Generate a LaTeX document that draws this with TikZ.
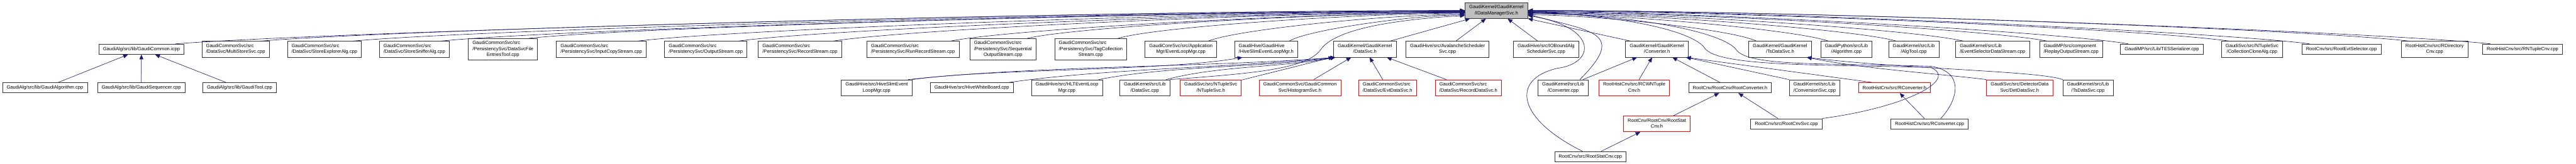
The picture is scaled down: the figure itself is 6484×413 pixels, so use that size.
\documentclass[tikz,border=0pt]{standalone}
\usepackage{fontspec}
\setmainfont{Liberation Sans}
\usetikzlibrary{arrows.meta}
\definecolor{edgeblue}{HTML}{191970}
\definecolor{rootgray}{HTML}{BFBFBF}
% label: all lines left, last line centred (as doxygen sets them)
\newcommand{\fl}[2]{\begin{tabular}{@{}l@{}}#1\\\multicolumn{1}{@{}c@{}}{#2}\end{tabular}}

\begin{document}
\begin{tikzpicture}[
    x=1pt, y=-1pt,
    font=\fontsize{12}{15}\selectfont,
    file/.style={draw=black!80, line width=1.1pt, fill=white, inner xsep=10.5pt, inner ysep=1pt, minimum height=26pt},
    two/.style={minimum height=40pt},
    three/.style={minimum height=54pt},
    cut/.style={draw=red},
    dep/.style={draw=edgeblue, line width=1pt, -{Triangle[length=12pt,width=10pt]}}
  ]
  \useasboundingbox (0,0) rectangle (6484,413);

  \node[file,two,fill=rootgray] (root) at (3766.5,26.5) {\fl{GaudiKernel/GaudiKernel}{/IDataManagerSvc.h}};

  % second row
  \node[file] (icpp) at (356,124) {GaudiAlg/src/lib/GaudiCommon.icpp};
  \node[file,two] (multi) at (593,124) {\fl{GaudiCommonSvc/src}{/DataSvc/MultiStoreSvc.cpp}};
  \node[file,two] (explorer) at (816.5,124) {\fl{GaudiCommonSvc/src}{/DataSvc/StoreExplorerAlg.cpp}};
  \node[file,two] (sniffer) at (1043,124) {\fl{GaudiCommonSvc/src}{/DataSvc/StoreSnifferAlg.cpp}};
  \node[file,three] (entries) at (1266,124) {\fl{GaudiCommonSvc/src\\/PersistencySvc/DataSvcFile}{EntriesTool.cpp}};
  \node[file,two] (inputcopy) at (1513.5,124) {\fl{GaudiCommonSvc/src}{/PersistencySvc/InputCopyStream.cpp}};
  \node[file,two] (output) at (1776.5,124) {\fl{GaudiCommonSvc/src}{/PersistencySvc/OutputStream.cpp}};
  \node[file,two] (record) at (2013.5,124) {\fl{GaudiCommonSvc/src}{/PersistencySvc/RecordStream.cpp}};
  \node[file,two] (runrecord) at (2298,124) {\fl{GaudiCommonSvc/src}{/PersistencySvc/RunRecordStream.cpp}};
  \node[file,three] (seqout) at (2524.5,124) {\fl{GaudiCommonSvc/src\\/PersistencySvc/Sequential}{OutputStream.cpp}};
  \node[file,three] (tagcoll) at (2745.5,124) {\fl{GaudiCommonSvc/src\\/PersistencySvc/TagCollection}{Stream.cpp}};
  \node[file,two] (evtloop) at (2972.5,124) {\fl{GaudiCoreSvc/src/Application}{Mgr/EventLoopMgr.cpp}};
  \node[file,two] (hiveslimh) at (3187,124) {\fl{GaudiHive/GaudiHive}{/HiveSlimEventLoopMgr.h}};
  \node[file,two] (datasvch) at (3435.5,124) {\fl{GaudiKernel/GaudiKernel}{/DataSvc.h}};
  \node[file,two] (avalanche) at (3643.5,124) {\fl{GaudiHive/src/AvalancheScheduler}{Svc.cpp}};
  \node[file,two] (iobound) at (3891.5,124) {\fl{GaudiHive/src/IOBoundAlg}{SchedulerSvc.cpp}};
  \node[file,two] (converterh) at (4170.5,124) {\fl{GaudiKernel/GaudiKernel}{/Converter.h}};
  \node[file,two] (tsdatasvch) at (4480.5,124) {\fl{GaudiKernel/GaudiKernel}{/TsDataSvc.h}};
  \node[file,two] (pyalg) at (4647.5,124) {\fl{GaudiPython/src/Lib}{/Algorithm.cpp}};
  \node[file,two] (algtool) at (4817,124) {\fl{GaudiKernel/src/Lib}{/AlgTool.cpp}};
  \node[file,two] (evtselstream) at (5015.5,124) {\fl{GaudiKernel/src/Lib}{/EventSelectorDataStream.cpp}};
  \node[file,two] (replay) at (5213,124) {\fl{GaudiMP/src/component}{/ReplayOutputStream.cpp}};
  \node[file] (tesser) at (5441.5,124) {GaudiMP/src/Lib/TESSerializer.cpp};
  \node[file,two] (collclone) at (5668.5,124) {\fl{GaudiSvc/src/NTupleSvc}{/CollectionCloneAlg.cpp}};
  \node[file] (rootevtsel) at (5893.5,124) {RootCnv/src/RootEvtSelector.cpp};
  \node[file,two] (rdircnv) at (6128,124) {\fl{RootHistCnv/src/RDirectory}{Cnv.cpp}};
  \node[file] (rntuplecnv) at (6349.5,124) {RootHistCnv/src/RNTupleCnv.cpp};

  % third row
  \node[file] (galgorithm) at (113,221) {GaudiAlg/src/lib/GaudiAlgorithm.cpp};
  \node[file] (gsequencer) at (355.5,221) {GaudiAlg/src/lib/GaudiSequencer.cpp};
  \node[file] (gtool) at (603,221) {GaudiAlg/src/lib/GaudiTool.cpp};
  \node[file,two] (hiveslimcpp) at (2206.5,221) {\fl{GaudiHive/src/HiveSlimEvent}{LoopMgr.cpp}};
  \node[file] (whiteboard) at (2446,221) {GaudiHive/src/HiveWhiteBoard.cpp};
  \node[file,two] (hltloop) at (2685.5,221) {\fl{GaudiHive/src/HLTEventLoop}{Mgr.cpp}};
  \node[file,two] (datasvccpp) at (2881.5,221) {\fl{GaudiKernel/src/Lib}{/DataSvc.cpp}};
  \node[file,two,cut] (ntuplesvch) at (3047.5,221) {\fl{GaudiSvc/src/NTupleSvc}{/NTupleSvc.h}};
  \node[file,two,cut] (histsvch) at (3272,221) {\fl{GaudiCommonSvc/GaudiCommon}{Svc/HistogramSvc.h}};
  \node[file,two,cut] (evtdatasvch) at (3492.5,221) {\fl{GaudiCommonSvc/src}{/DataSvc/EvtDataSvc.h}};
  \node[file,two,cut] (recdatasvch) at (3696,221) {\fl{GaudiCommonSvc/src}{/DataSvc/RecordDataSvc.h}};
  \node[file,two] (convcpp) at (3934.5,221) {\fl{GaudiKernel/src/Lib}{/Converter.cpp}};
  \node[file,two,cut] (rcwntupleh) at (4113.5,221) {\fl{RootHistCnv/src/RCWNTuple}{Cnv.h}};
  \node[file] (rootconvh) at (4354.5,221) {RootCnv/RootCnv/RootConverter.h};
  \node[file,two] (convsvccpp) at (4567.5,221) {\fl{GaudiKernel/src/Lib}{/ConversionSvc.cpp}};
  \node[file,cut] (rconvh) at (4768.5,221) {RootHistCnv/src/RConverter.h};
  \node[file,two,cut] (detdatasvch) at (5083.5,221) {\fl{GaudiSvc/src/DetectorData}{Svc/DetDataSvc.h}};
  \node[file,two] (tsdatasvccpp) at (5255.5,221) {\fl{GaudiKernel/src/Lib}{/TsDataSvc.cpp}};

  % fourth and fifth rows
  \node[file,two,cut] (rootstath) at (4170.5,312) {\fl{RootCnv/RootCnv/RootStat}{Cnv.h}};
  \node[file] (rootcnvsvc) at (4496.5,312) {RootCnv/src/RootCnvSvc.cpp};
  \node[file] (rconvcpp) at (4857,312) {RootHistCnv/src/RConverter.cpp};
  \node[file] (rootstatcpp) at (4003,394.5) {RootCnv/src/RootStatCnv.cpp};

  % includers of IDataManagerSvc.h
  \foreach \n/\a/\c/\e in {icpp/390/970/180, multi/360/900/180, explorer/330/830/181,
      sniffer/300/760/181, entries/280/700/182, inputcopy/245/610/182, output/215/540/183,
      record/190/470/183, runrecord/150/380/184, seqout/130/325/184, tagcoll/100/250/185,
      evtloop/75/190/187, hiveslimh/50/120/188}
    \draw[dep] ([xshift=-22pt]\n.north east) .. controls +(\a,-30) and +(-\c,0) .. (root.\e);
  \foreach \n/\a/\c/\e in {tsdatasvch/65/170/-8, pyalg/90/220/-6, algtool/105/270/-5,
      evtselstream/130/320/-4, replay/155/390/-3, tesser/175/440/-2, collclone/210/520/-1,
      rootevtsel/230/580/0, rdircnv/260/660/0, rntuplecnv/290/720/0}
    \draw[dep] ([xshift=20pt]\n.north west) .. controls +(-\a,-30) and +(\c,0) .. (root.\e);
  \draw[dep] ([xshift=-16pt]datasvch.north east) -- ([xshift=13pt]root.south west);
  \draw[dep] ([xshift=21pt]avalanche.north) -- ([xshift=53pt]root.south west);
  \draw[dep] ([xshift=-21pt]iobound.north) -- ([xshift=-51pt]root.south east);
  \draw[dep] ([xshift=13pt]converterh.north west) -- (root.south east);
  \draw[dep] (datasvccpp.north east) .. controls (3150,185) and (3290,175) .. (3325,124)
    .. controls (3360,75) and (3500,50) .. (root.189);
  \draw[dep] ([xshift=42pt]convcpp.north) .. controls +(119,-119) and +(162,43) .. (root.-7);
  \draw[dep] ([xshift=-20pt]rootstatcpp.north) .. controls (3820,300) and (3800,200) .. (3920,172)
    .. controls (4015,160) and (4025,70) .. (root.-9);
  \draw[dep] (rootcnvsvc.north east) .. controls (4800,270) and (4930,200) .. (4860,170)
    .. controls (4600,162) and (4320,170) .. (4290,120) .. controls (4260,80) and (4100,40) .. (root.-3);
  \draw[dep] ([xshift=28pt]rconvcpp.north) .. controls (4930,250) and (4945,180) .. (4860,167)
    .. controls (4620,158) and (4400,170) .. (4370,125) .. controls (4340,85) and (4150,40) .. (root.-4);

  % other includes
  \foreach \n in {galgorithm, gsequencer, gtool}
    \draw[dep] (\n) -- (icpp);
  \draw[dep] (hiveslimcpp.north east) .. controls +(200,-28) and +(-200,35) .. ([xshift=-60pt]hiveslimh.south);
  \foreach \n/\a in {hiveslimcpp/320, whiteboard/245, hltloop/175, datasvccpp/130}
    \draw[dep] ([xshift=-10pt]\n.north east) .. controls +(\a,-35) and +(-\a,25) .. ([xshift=5pt]datasvch.south west);
  \foreach \n in {ntuplesvch, histsvch, evtdatasvch, recdatasvch}
    \draw[dep] (\n) -- (datasvch);
  \foreach \n in {convcpp, rcwntupleh, rootconvh}
    \draw[dep] (\n) -- (converterh);
  \draw[dep] (convsvccpp.north west) -- ([xshift=-6pt]converterh.south east);
  \draw[dep] ([xshift=34pt]rconvh.north west) -- ([xshift=-6pt]converterh.south east);
  \draw[dep] (rootstath) -- (rootconvh);
  \draw[dep] (rootstatcpp) -- (rootstath);
  \draw[dep] (rootcnvsvc) -- (rootconvh);
  \draw[dep] (rconvcpp) -- (rconvh);
  \draw[dep] (detdatasvch.north west) .. controls +(-120,-15) and +(150,30) .. ([xshift=-12pt]tsdatasvch.south east);
  \draw[dep] (tsdatasvccpp.north west) .. controls +(-60,-22) and +(250,30) .. ([xshift=-12pt]tsdatasvch.south east);
\end{tikzpicture}
\end{document}
